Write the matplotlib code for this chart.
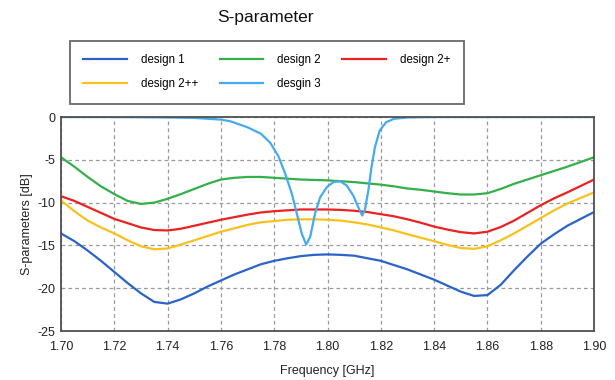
import matplotlib
matplotlib.use('Agg')
import matplotlib.pyplot as plt

plt.rcParams['font.family'] = ['Liberation Sans', 'DejaVu Sans']
plt.rcParams['axes.unicode_minus'] = False

# frequency grid for designs 1, 2, 2+, 2++ (GHz)
freq = [1.700, 1.705, 1.710, 1.715, 1.720, 1.725, 1.730, 1.735, 1.740, 1.745,
        1.750, 1.755, 1.760, 1.765, 1.770, 1.775, 1.780, 1.785, 1.790, 1.795,
        1.800, 1.805, 1.810, 1.815, 1.820, 1.825, 1.830, 1.835, 1.840, 1.845,
        1.850, 1.855, 1.860, 1.865, 1.870, 1.875, 1.880, 1.885, 1.890, 1.895,
        1.900]

design1 = [-13.6, -14.5, -15.6, -16.8, -18.1, -19.4, -20.6, -21.6, -21.8, -21.3,
           -20.6, -19.8, -19.1, -18.4, -17.8, -17.2, -16.8, -16.5, -16.25, -16.1,
           -16.05, -16.1, -16.2, -16.5, -16.8, -17.3, -17.8, -18.4, -19.0, -19.7,
           -20.4, -20.9, -20.8, -19.6, -17.9, -16.3, -14.8, -13.7, -12.7, -11.9,
           -11.1]

design2 = [-4.7, -5.8, -7.0, -8.1, -9.0, -9.8, -10.15, -10.0, -9.55, -9.0,
           -8.4, -7.8, -7.3, -7.1, -7.0, -7.0, -7.1, -7.2, -7.3, -7.35,
           -7.4, -7.5, -7.6, -7.75, -7.9, -8.1, -8.35, -8.5, -8.7, -8.9,
           -9.05, -9.05, -8.9, -8.4, -7.8, -7.3, -6.8, -6.3, -5.8, -5.25,
           -4.7]

design2p = [-9.25, -9.8, -10.5, -11.2, -11.9, -12.4, -12.9, -13.2, -13.25, -13.05,
            -12.7, -12.35, -12.0, -11.7, -11.4, -11.15, -11.0, -10.9, -10.8, -10.8,
            -10.8, -10.85, -10.95, -11.1, -11.35, -11.6, -11.95, -12.35, -12.8, -13.15,
            -13.45, -13.6, -13.4, -12.85, -12.1, -11.2, -10.3, -9.5, -8.8, -8.05,
            -7.3]

design2pp = [-9.75, -11.0, -12.1, -12.9, -13.6, -14.4, -15.1, -15.45, -15.35, -14.9,
             -14.4, -13.9, -13.4, -13.0, -12.6, -12.3, -12.15, -12.0, -11.95, -11.95,
             -12.0, -12.1, -12.3, -12.55, -12.9, -13.25, -13.7, -14.1, -14.5, -14.95,
             -15.3, -15.4, -15.1, -14.4, -13.6, -12.7, -11.8, -10.9, -10.1, -9.45,
             -8.8]

# design 3 has two narrow dips, read on a finer grid
freq3 = [1.700, 1.720, 1.740, 1.750, 1.760, 1.7636, 1.770, 1.775, 1.7785, 1.7816,
         1.7841, 1.7866, 1.7885, 1.7903, 1.792, 1.7935, 1.7953, 1.7972, 1.7997, 1.8022,
         1.8047, 1.8072, 1.8097, 1.8115, 1.813, 1.814, 1.8153, 1.8165, 1.8178, 1.8196,
         1.822, 1.825, 1.830, 1.840, 1.900]
design3 = [0.0, 0.0, -0.05, -0.1, -0.3, -0.5, -1.2, -1.95, -3.0, -4.6,
           -6.6, -8.95, -11.3, -13.6, -14.9, -14.0, -11.3, -9.4, -8.2, -7.6,
           -7.5, -8.0, -9.2, -10.5, -11.5, -10.9, -8.6, -5.85, -3.5, -1.56,
           -0.6, -0.2, -0.05, 0.0, 0.0]

labels = ['design 1', 'design 2', 'design 2+', 'design 2++', 'desgin 3']
colors = ['#2a63c9', '#33b04a', '#ec2121', '#f9c11c', '#45abf0']

fig = plt.figure(figsize=(6.15, 3.8), dpi=100)
ax = fig.add_axes([0.0992, 0.1289, 0.8667, 0.5631])

series = [(freq, design1), (freq, design2), (freq, design2p), (freq, design2pp), (freq3, design3)]
handles = []
for (x, y), c, lab in zip(series, colors, labels):
    h, = ax.plot(x, y, color=c, lw=1.6, label=lab)
    handles.append(h)

ax.set_xlim(1.70, 1.90)
ax.set_ylim(-25, 0)
ax.set_xticks([1.70 + 0.02 * i for i in range(11)])
ax.set_xticklabels(['%.2f' % (1.70 + 0.02 * i) for i in range(11)])
ax.set_yticks([0, -5, -10, -15, -20, -25])
ax.tick_params(length=0, labelsize=9, colors='#222222')
ax.tick_params(axis='x', pad=7)
ax.tick_params(axis='y', pad=4)
ax.grid(True, color='#9a9a9a', linestyle=(0, (3, 2.5)), lw=0.9)
for s in ax.spines.values():
    s.set_color('#505050')
    s.set_linewidth(1.3)
    s.set_zorder(3)

ax.set_xlabel('Frequency [GHz]', fontsize=9, labelpad=9, color='#222222')
ax.set_ylabel('S-parameters [dB]', fontsize=9, labelpad=3, color='#222222')

fig.text(0.431, 0.955, 'S-parameter', ha='center', va='center', fontsize=12.5, color='#111111')

# legend fills column by column, so reorder to get row-wise reading
order = [0, 3, 1, 4, 2]
leg = fig.legend(handles=[handles[i] for i in order], labels=[labels[i] for i in order],
                 ncol=3, loc='upper left', bbox_to_anchor=(0.1138, 0.892), fontsize=8.3,
                 handlelength=3.8, handletextpad=1.2, columnspacing=1.85,
                 borderpad=1.15, labelspacing=1.05, fancybox=False,
                 frameon=True, borderaxespad=0)
leg.get_frame().set_edgecolor('#444444')
leg.get_frame().set_linewidth(1.3)

fig.savefig('out.png', dpi=100)
